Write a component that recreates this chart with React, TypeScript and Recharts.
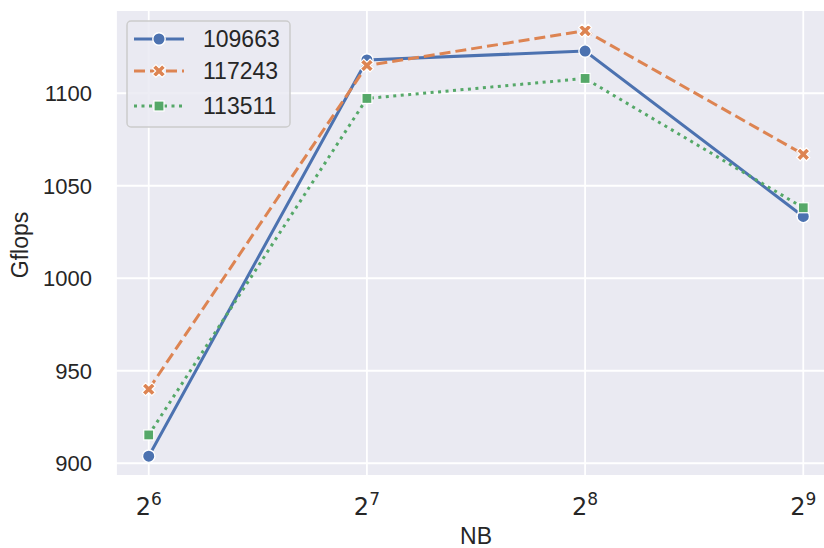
import React from 'react';
import { LineChart, Line, XAxis, YAxis, CartesianGrid, Legend } from 'recharts';

const nbExponents = [6, 7, 8, 9];
const series109663 = [903.8, 1118.0, 1122.8, 1033.4];
const series117243 = [940.0, 1115.0, 1133.8, 1067.0];
const series113511 = [915.3, 1097.2, 1108.0, 1038.1];
const seriesNames = ['109663', '117243', '113511'];
const yTicks = [900, 950, 1000, 1050, 1100];

const data = nbExponents.map((e, i) => ({
  nb: e,
  s1: series109663[i],
  s2: series117243[i],
  s3: series113511[i],
}));

const BLUE = '#4C72B0';
const ORANGE = '#DD8452';
const GREEN = '#55A868';
const BG = '#EAEAF2';
const TXT = '#262626';
const SANS = '"Liberation Sans", Arial, sans-serif';

const CircleMark = ({ cx, cy }: any) =>
  cx == null ? null : <circle cx={cx} cy={cy} r={6.2} fill={BLUE} stroke="#fff" strokeWidth={1.4} />;

const xPath = (cx: number, cy: number) => {
  const L = 6.8, w = 2.4;
  const pts = [
    [-w, -L], [w, -L], [w, -w], [L, -w], [L, w], [w, w],
    [w, L], [-w, L], [-w, w], [-L, w], [-L, -w], [-w, -w],
  ];
  const c = Math.SQRT1_2;
  return pts
    .map(([x, y]) => `${(cx + (x - y) * c).toFixed(2)},${(cy + (x + y) * c).toFixed(2)}`)
    .join(' ');
};

const XMark = ({ cx, cy }: any) =>
  cx == null ? null : <polygon points={xPath(cx, cy)} fill={ORANGE} stroke="#fff" strokeWidth={1.2} />;

const SquareMark = ({ cx, cy }: any) =>
  cx == null ? null : (
    <rect x={cx - 5} y={cy - 5} width={10} height={10} fill={GREEN} stroke="#fff" strokeWidth={1.2} />
  );

const XTick = ({ x, y, payload }: any) => (
  <text x={x} y={y + 39} textAnchor="middle" fill={TXT} fontFamily='"DejaVu Sans", sans-serif' fontSize={24}>
    <tspan>2</tspan>
    <tspan dy={-10} fontSize={17}>{payload.value}</tspan>
  </text>
);

const YTick = ({ x, y, payload }: any) => (
  <text x={x} y={y + 8} textAnchor="end" fill={TXT} fontFamily={SANS} fontSize={22}>
    {payload.value}
  </text>
);

const LegendBox = () => {
  const rows = [
    { name: seriesNames[0], color: BLUE, dash: undefined as string | undefined, M: CircleMark },
    { name: seriesNames[1], color: ORANGE, dash: '11 5', M: XMark },
    { name: seriesNames[2], color: GREEN, dash: '3 4.5', M: SquareMark },
  ];
  const ys = [19, 51, 86];
  return (
    <svg width={166} height={110} style={{ display: 'block' }}>
      <rect x={1} y={1} width={163} height={106} rx={4} fill="rgba(234,234,242,0.85)" stroke="#cccccc" strokeWidth={1.5} />
      {rows.map((r, i) => (
        <g key={r.name}>
          <line x1={8} x2={58} y1={ys[i]} y2={ys[i]} stroke={r.color} strokeWidth={3} strokeDasharray={r.dash} />
          <r.M cx={33} cy={ys[i]} />
          <text x={77} y={ys[i] + 8} fill={TXT} fontFamily={SANS} fontSize={23}>
            {r.name}
          </text>
        </g>
      ))}
    </svg>
  );
};

export default function App() {
  return (
    <div style={{ position: 'absolute', left: 0, top: 0, width: 824, height: 548, overflow: 'hidden', background: '#fff' }}>
      <LineChart width={840} height={548} data={data} margin={{ top: 10, right: 4, bottom: 0, left: 0 }}>
        <CartesianGrid fill={BG} stroke="#ffffff" strokeWidth={1.8} />
        <XAxis
          dataKey="nb"
          type="number"
          domain={[5.85, 9.15]}
          ticks={nbExponents}
          height={72}
          axisLine={false}
          tickLine={false}
          tickSize={0}
          tickMargin={0}
          tick={<XTick />}
          allowDataOverflow
          label={(props: any) => {
            const vb = props.viewBox || {};
            return (
              <text x={vb.x + vb.width / 2} y={544} textAnchor="middle" fill={TXT} fontFamily={SANS} fontSize={23}>
                NB
              </text>
            );
          }}
        />
        <YAxis
          type="number"
          domain={[893.1, 1145.0]}
          ticks={yTicks}
          width={116}
          axisLine={false}
          tickLine={false}
          tickSize={0}
          tickMargin={24}
          tick={<YTick />}
          allowDataOverflow
          label={() => (
            <text x={28} y={245} transform="rotate(-90 28 245)" textAnchor="middle" fill={TXT} fontFamily={SANS} fontSize={23}>
              Gflops
            </text>
          )}
        />
        <Line dataKey="s1" name={seriesNames[0]} stroke={BLUE} strokeWidth={3} dot={<CircleMark />} activeDot={false} isAnimationActive={false} />
        <Line dataKey="s2" name={seriesNames[1]} stroke={ORANGE} strokeWidth={3} strokeDasharray="11 5" dot={<XMark />} activeDot={false} isAnimationActive={false} />
        <Line dataKey="s3" name={seriesNames[2]} stroke={GREEN} strokeWidth={3} strokeDasharray="3 4.5" dot={<SquareMark />} activeDot={false} isAnimationActive={false} />
        <Legend
          layout="vertical"
          align="center"
          verticalAlign="middle"
          content={<LegendBox />}
          wrapperStyle={{ position: 'absolute', left: 126, top: 20, width: 166, height: 110 }}
        />
      </LineChart>
    </div>
  );
}
